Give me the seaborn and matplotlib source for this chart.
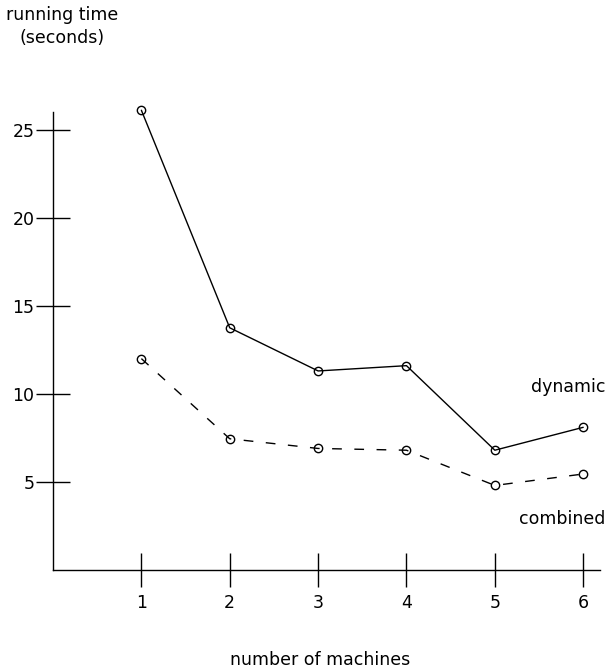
import numpy as np
import pandas as pd
import matplotlib
matplotlib.use("Agg")
import matplotlib.pyplot as plt
import seaborn as sns

machines = [1, 2, 3, 4, 5, 6]
dynamic = [26.1, 13.75, 11.3, 11.6, 6.8, 8.1]
combined = [12.0, 7.45, 6.9, 6.8, 4.8, 5.45]
yticks = [5, 10, 15, 20, 25]

df = pd.DataFrame({
    "machines": machines * 2,
    "time": dynamic + combined,
    "method": ["dynamic"] * 6 + ["combined"] * 6,
})

sns.set_style("ticks")
plt.rcParams["font.family"] = ["DejaVu Sans"]
plt.rcParams["text.color"] = "black"

fig = plt.figure(figsize=(6.16, 6.71), dpi=100)
ax = fig.add_axes([53 / 616, 1 - 570 / 671, (600 - 53) / 616, (570 - 112) / 671])

sns.lineplot(data=df, x="machines", y="time", style="method",
             dashes={"dynamic": "", "combined": (7, 9)},
             color="black", linewidth=1.0, marker="o", markersize=6,
             markerfacecolor="none", markeredgecolor="black", markeredgewidth=1.0,
             legend=False, ax=ax, clip_on=False)

ax.set_xlim(0, 6.19)
ax.set_ylim(0, 26.0)
ax.set_xticks(machines)
ax.set_yticks(yticks)
ax.tick_params(direction="inout", length=24.5, width=1.0, color="black",
               labelsize=12.5, labelcolor="black")
ax.tick_params(axis="x", pad=5)
ax.tick_params(axis="y", pad=1)
sns.despine(ax=ax)
for s in ["left", "bottom"]:
    ax.spines[s].set_linewidth(1.0)
    ax.spines[s].set_color("black")
ax.set_xlabel("")
ax.set_ylabel("")

fig.text(62 / 616, 1 - 15 / 671, "running time", ha="center",
         va="center", fontsize=12.5)
fig.text(62 / 616, 1 - 38 / 671, "(seconds)", ha="center",
         va="center", fontsize=12.5)
fig.text(320 / 616, 1 - 660 / 671, "number of machines", ha="center",
         va="center", fontsize=12.5)
ax.text(6.25, 10.4, "dynamic", ha="right", va="center", fontsize=12.5)
ax.text(6.25, 2.9, "combined", ha="right", va="center", fontsize=12.5)

fig.savefig("out.png", dpi=100)
